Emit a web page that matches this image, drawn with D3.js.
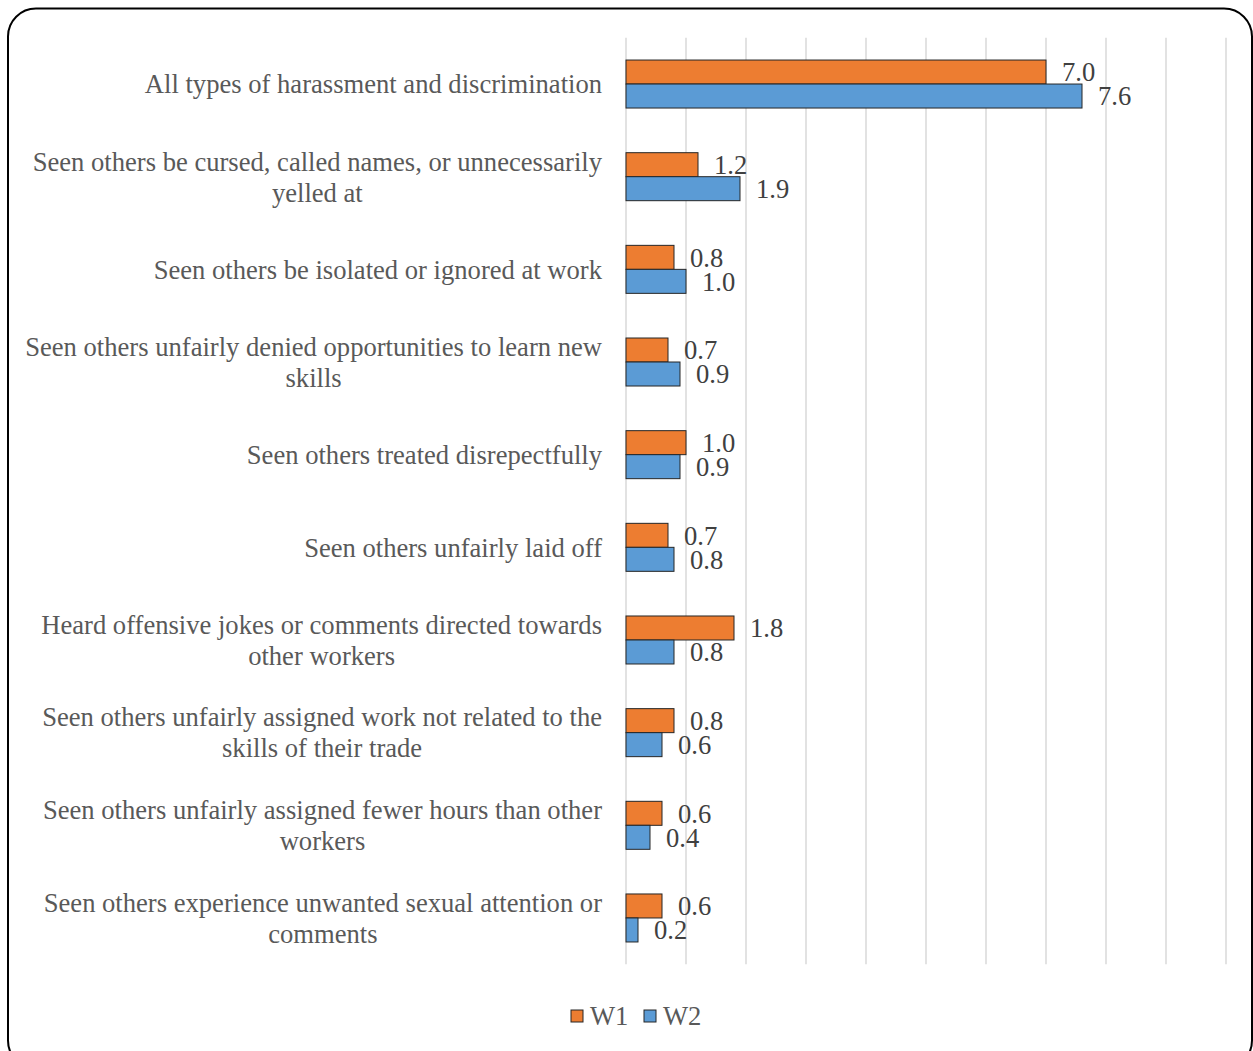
<!DOCTYPE html>
<html>
<head>
<meta charset="utf-8">
<script src="https://cdn.jsdelivr.net/npm/d3@7/dist/d3.min.js"></script>
<style>
  html, body { margin: 0; padding: 0; background: #fff; }
  svg { display: block; }
  svg text { font-family: "Liberation Serif", Tinos, "Times New Roman", "DejaVu Serif", serif; }
</style>
</head>
<body>
<svg id="chart" width="1253" height="1051"></svg>
<script>
// Category labels, one entry per row; inner arrays are the wrapped lines
const categories = [
  ["All types of harassment and discrimination"],
  ["Seen others be cursed, called names, or unnecessarily", "yelled at"],
  ["Seen others be isolated or ignored at work"],
  ["Seen others unfairly denied opportunities to learn new", "skills"],
  ["Seen others treated disrepectfully"],
  ["Seen others unfairly laid off"],
  ["Heard offensive jokes or comments directed towards", "other workers"],
  ["Seen others unfairly assigned work not related to the", "skills of their trade"],
  ["Seen others unfairly assigned fewer hours than other", "workers"],
  ["Seen others experience unwanted sexual attention or", "comments"]
];
const seriesNames = ["W1", "W2"];
const w1Values = [7.0, 1.2, 0.8, 0.7, 1.0, 0.7, 1.8, 0.8, 0.6, 0.6];
const w2Values = [7.6, 1.9, 1.0, 0.9, 0.9, 0.8, 0.8, 0.6, 0.4, 0.2];
const seriesColors = ["#ED7D31", "#5B9BD5"];
const axisMax = 10;

const svg = d3.select("#chart");
const fs = 26.6;

// Outer rounded frame
svg.append("rect")
  .attr("x", 8).attr("y", 8.5)
  .attr("width", 1244).attr("height", 1060)
  .attr("rx", 28).attr("ry", 28)
  .attr("fill", "#fff").attr("stroke", "#000").attr("stroke-width", 2);

const catKeys = categories.map((c, i) => i);
const y = d3.scaleBand()
  .domain(catKeys)
  .range([37.7, 964.3])
  .paddingInner(0.482)
  .paddingOuter(0.241);
const ySeries = d3.scaleBand()
  .domain(seriesNames)
  .range([0, y.bandwidth()]);
const x = d3.scaleLinear().domain([0, axisMax]).range([626, 1226]);

// Vertical gridlines
svg.append("g")
  .selectAll("line")
  .data(x.ticks(axisMax))
  .join("line")
  .attr("x1", d => x(d)).attr("x2", d => x(d))
  .attr("y1", 37.7).attr("y2", 964.3)
  .attr("stroke", "#d9d9d9").attr("stroke-width", 1.5);

// Bars
const rows = catKeys.map(i => ({ i, vals: [w1Values[i], w2Values[i]] }));
const rowG = svg.append("g").selectAll("g")
  .data(rows)
  .join("g")
  .attr("transform", d => `translate(0,${y(d.i)})`);

rowG.selectAll("rect")
  .data(d => d.vals.map((v, k) => ({ v, k })))
  .join("rect")
  .attr("x", x(0))
  .attr("y", d => ySeries(seriesNames[d.k]))
  .attr("width", d => x(d.v) - x(0))
  .attr("height", ySeries.bandwidth())
  .attr("fill", d => seriesColors[d.k])
  .attr("stroke", "#262626").attr("stroke-width", 1);

// Value labels
rowG.selectAll("text.val")
  .data(d => d.vals.map((v, k) => ({ v, k })))
  .join("text")
  .attr("class", "val")
  .attr("x", d => x(d.v) + 16)
  .attr("y", d => ySeries(seriesNames[d.k]) + ySeries.bandwidth() / 2)
  .attr("dy", "0.35em")
  .attr("font-size", fs)
  .attr("fill", "#404040")
  .text(d => d.v.toFixed(1));

// Category labels
const lineH = 31;
const catG = svg.append("g").selectAll("text")
  .data(rows)
  .join("text")
  .attr("font-size", fs)
  .attr("fill", "#595959");

catG.each(function (d) {
  const lines = categories[d.i];
  const cy = y(d.i) + y.bandwidth() / 2;
  const t = d3.select(this);
  if (lines.length === 1) {
    t.attr("text-anchor", "end").attr("x", 602).attr("y", cy).attr("dy", "0.35em").text(lines[0]);
  } else {
    // measure widest line to center the block against the right edge
    const tmp = svg.append("text").attr("font-size", fs).text(lines[0]);
    const w = tmp.node().getComputedTextLength();
    tmp.remove();
    const cx = 602 - w / 2;
    t.attr("text-anchor", "middle");
    lines.forEach((ln, k) => {
      t.append("tspan")
        .attr("x", cx)
        .attr("y", cy + (k - (lines.length - 1) / 2) * lineH)
        .attr("dy", "0.35em")
        .text(ln);
    });
  }
});

// Legend
const legend = svg.append("g").attr("transform", "translate(571,1010)");
const legItems = [{ name: seriesNames[0], x: 0 }, { name: seriesNames[1], x: 73 }];
legItems.forEach((it, k) => {
  legend.append("rect")
    .attr("x", it.x).attr("y", 0).attr("width", 12).attr("height", 12)
    .attr("fill", seriesColors[k]).attr("stroke", "#262626").attr("stroke-width", 1);
  legend.append("text")
    .attr("x", it.x + 19).attr("y", 6).attr("dy", "0.35em")
    .attr("font-size", fs).attr("fill", "#595959")
    .text(it.name);
});
</script>
</body>
</html>
